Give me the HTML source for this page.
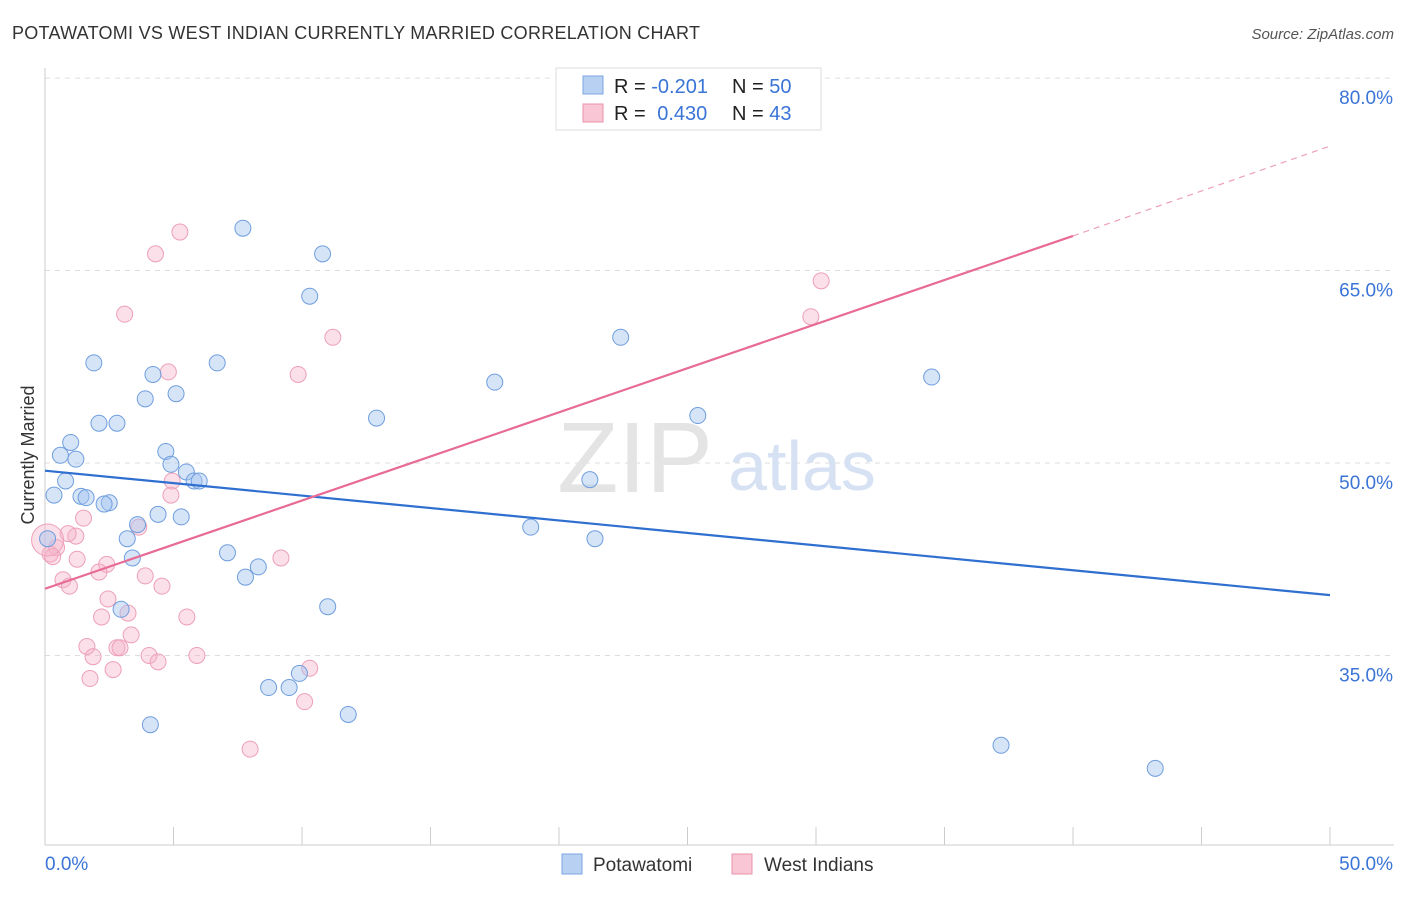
<!DOCTYPE html>
<html><head><meta charset="utf-8"><style>
body{margin:0;background:#fff;font-family:"Liberation Sans",sans-serif;}
svg text{font-family:"Liberation Sans",sans-serif;}
</style></head><body>
<svg id="c" width="1406" height="892" xmlns="http://www.w3.org/2000/svg">
<text x="12" y="39" font-size="18" fill="#333" textLength="688">POTAWATOMI VS WEST INDIAN CURRENTLY MARRIED CORRELATION CHART</text>
<text x="1394" y="39" font-size="15" fill="#555" font-style="italic" text-anchor="end">Source: ZipAtlas.com</text>
<text x="34" y="455" font-size="18" fill="#333" text-anchor="middle" transform="rotate(-90 34 455)">Currently Married</text>
<g id="grid"></g><g id="axes"></g>
<text x="635" y="492" font-size="100" fill="#e4e4e4" font-family="Liberation Serif" text-anchor="middle">ZIP</text>
<text x="802" y="490" font-size="70" fill="#d6e2f3" text-anchor="middle">atlas</text>
<g id="pts"></g><g id="lines"></g>
<g>
<rect x="556" y="68" width="265" height="62" fill="#fff" stroke="#ddd"/>
<rect x="583" y="76" width="20" height="18" fill="#b8d0f2" stroke="#7aa6e2"/>
<rect x="583" y="104" width="20" height="18" fill="#f8c6d4" stroke="#eb92ad"/>
<text x="614" y="93" font-size="20" fill="#222">R = <tspan fill="#3a74d6">-0.201</tspan></text>
<text x="732" y="93" font-size="20" fill="#222">N = <tspan fill="#3a74d6">50</tspan></text>
<text x="614" y="120" font-size="20" fill="#222">R = <tspan fill="#3a74d6" dx="6">0.430</tspan></text>
<text x="732" y="120" font-size="20" fill="#222">N = <tspan fill="#3a74d6">43</tspan></text>
</g>
<g>
<rect x="562" y="854" width="20" height="20" fill="#b8d0f2" stroke="#7aa6e2"/>
<text x="593" y="871" font-size="19" fill="#333">Potawatomi</text>
<rect x="732" y="854" width="20" height="20" fill="#f8c6d4" stroke="#eb92ad"/>
<text x="764" y="871" font-size="19" fill="#333">West Indians</text>
</g>
</svg>
<script>
const yTicks=[35,50,65,80];
const xTickLabels=["0.0%","50.0%"];
const blueX=[7.7,10.8,10.3,1.9,6.7,4.2,5.1,3.9,2.1,2.8,12.9,1.0,0.6,1.2,4.7,4.9,5.5,5.8,6.0,0.8,0.35,1.4,1.6,2.5,2.3,4.4,5.3,3.6,3.2,3.4,7.1,8.3,7.8,2.96,11.0,9.9,8.7,9.5,4.1,11.8,17.5,22.4,25.4,21.2,18.9,21.4,34.5,37.2,43.2,0.1];
const blueY=[68.3,66.3,63.0,57.8,57.8,56.9,55.4,55.0,53.1,53.1,53.5,51.6,50.6,50.3,50.9,49.9,49.3,48.6,48.6,48.6,47.5,47.4,47.3,46.9,46.8,46.0,45.8,45.2,44.1,42.6,43.0,41.9,41.1,38.6,38.8,33.6,32.5,32.5,29.6,30.4,56.3,59.8,53.7,48.7,45.0,44.1,56.7,28.0,26.2,44.1];
const pinkX=[5.25,4.3,3.1,11.2,4.8,9.85,4.95,4.9,1.5,3.65,1.2,0.9,0.45,0.2,0.3,1.25,2.4,2.1,3.9,0.7,0.95,4.55,2.45,2.2,3.23,5.52,3.35,1.63,2.8,2.92,1.87,4.05,4.4,5.91,2.65,1.75,9.18,10.3,10.1,7.98,30.2,29.8,0.1];
const pinkY=[68.0,66.3,61.6,59.8,57.1,56.9,48.6,47.5,45.7,45.0,44.3,44.5,43.4,42.9,42.7,42.5,42.1,41.5,41.2,40.9,40.4,40.4,39.4,38.0,38.3,38.0,36.6,35.7,35.6,35.6,34.9,35.0,34.5,35.0,33.9,33.2,42.6,34.0,31.4,27.7,64.2,61.4,44.0];
const blueLine=[49.4,39.7];
const pinkLine=[40.2,67.7,74.7];
const X=v=>45+v*25.7, Y=v=>463-(v-50)*12.83;
const NS="http://www.w3.org/2000/svg";
function mk(tag,at,parent){const e=document.createElementNS(NS,tag);for(const k in at)e.setAttribute(k,at[k]);document.getElementById(parent).appendChild(e);return e;}
yTicks.forEach(t=>{
 const l=mk('line',{x1:45,x2:1394,y1:Y(t),y2:Y(t),stroke:'#ddd','stroke-dasharray':'5,5'},'grid');
 
 
 const tx=mk('text',{x:1393,y:Y(t)+26,'font-size':19,fill:'#3a74d6','text-anchor':'end'},'grid');tx.textContent=t.toFixed(1)+'%';
 
 
});
const ax=mk('line',{x1:45,x2:1394,y1:845,y2:845,stroke:'#ccc'},'axes');


const ay=mk('line',{x1:45,x2:45,y1:68,y2:845,stroke:'#ccc'},'axes');


for(let i=0;i<=10;i++){const t=mk('line',{x1:X(i*5),x2:X(i*5),y1:827,y2:845,stroke:'#ccc'},'axes');
 
 }
xTickLabels.forEach((s,i)=>{const t=mk('text',{x:i?1393:45,y:870,'font-size':19,fill:'#3a74d6','text-anchor':i?'end':'start'},'axes');t.textContent=s;
 
 });
pinkX.forEach((x,i)=>{const c=mk('circle',{cx:X(x),cy:Y(pinkY[i]),r:i==pinkX.length-1?16:8,fill:'rgba(246,178,199,0.4)',stroke:'#eda0b8','stroke-width':1},'pts');
 
 });
blueX.forEach((x,i)=>{const c=mk('circle',{cx:X(x),cy:Y(blueY[i]),r:8,fill:'rgba(164,196,240,0.45)',stroke:'#6f9ede','stroke-width':1},'pts');
 
 });
const bl=mk('line',{x1:X(0),y1:Y(blueLine[0]),x2:X(50),y2:Y(blueLine[1]),stroke:'#2f6fd0','stroke-width':2.2},'lines');


const pl=mk('line',{x1:X(0),y1:Y(pinkLine[0]),x2:X(40),y2:Y(pinkLine[1]),stroke:'#e86b95','stroke-width':2.2},'lines');


const pd=mk('line',{x1:X(40),y1:Y(pinkLine[1]),x2:X(50),y2:Y(pinkLine[2]),stroke:'#eda0b8','stroke-width':1.2,'stroke-dasharray':'6,5'},'lines');


</script>
</body></html>
